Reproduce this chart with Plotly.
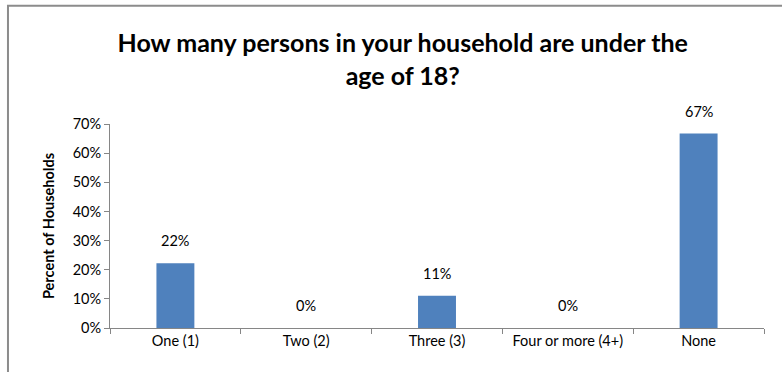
import plotly.graph_objects as go

categories = ["One (1)", "Two (2)", "Three (3)", "Four or more (4+)", "None"]
values = [22.2, 0.0, 11.1, 0.0, 66.7]
labels = ["22%", "0%", "11%", "0%", "67%"]
y_ticks = [0, 10, 20, 30, 40, 50, 60, 70]
y_tick_labels = ["0%", "10%", "20%", "30%", "40%", "50%", "60%", "70%"]

FONT = "Lato"
FS = 14.5

fig = go.Figure()
fig.add_trace(go.Bar(
    x=categories, y=values,
    marker=dict(color="#4F81BD", line=dict(width=0)),
    width=0.29,
    hoverinfo="skip",
))

for c, v, t in zip(categories, values, labels):
    fig.add_annotation(x=c, y=v, text=t, showarrow=False, yanchor="bottom",
                       yshift=12, font=dict(family=FONT, size=FS, color="#000000"))

fig.update_layout(
    width=782, height=372,
    margin=dict(l=110, r=18, t=124, b=44),
    paper_bgcolor="white", plot_bgcolor="white",
    showlegend=False,
    title=dict(
        text="How many persons in your household are under the<br>age of 18?",
        x=0.515, xanchor="center", y=0.859, yanchor="top",
        font=dict(family=FONT, size=25, color="#000000", weight="bold"),
    ),
    xaxis=dict(
        showline=True, linecolor="#868686", linewidth=1,
        ticks="outside", ticklen=5, tickcolor="#868686",
        tickson="boundaries", showgrid=False,
        tickfont=dict(family=FONT, size=FS, color="#000000"),
    ),
    yaxis=dict(
        range=[0, 70], tickvals=y_ticks, ticktext=y_tick_labels,
        showline=True, linecolor="#868686", linewidth=1,
        ticks="outside", ticklen=5, tickcolor="#868686",
        showgrid=False, zeroline=False,
        tickfont=dict(family=FONT, size=FS, color="#000000"),
        title=dict(text="<b>Percent of Households</b>", standoff=14,
                   font=dict(family=FONT, size=FS, color="#000000")),
    ),
    shapes=[dict(type="rect", xref="paper", yref="paper",
                 x0=-0.156, x1=2, y0=-1, y1=1.58,
                 line=dict(color="#8c8c8c", width=2))],
)

fig.write_html("out.html")
